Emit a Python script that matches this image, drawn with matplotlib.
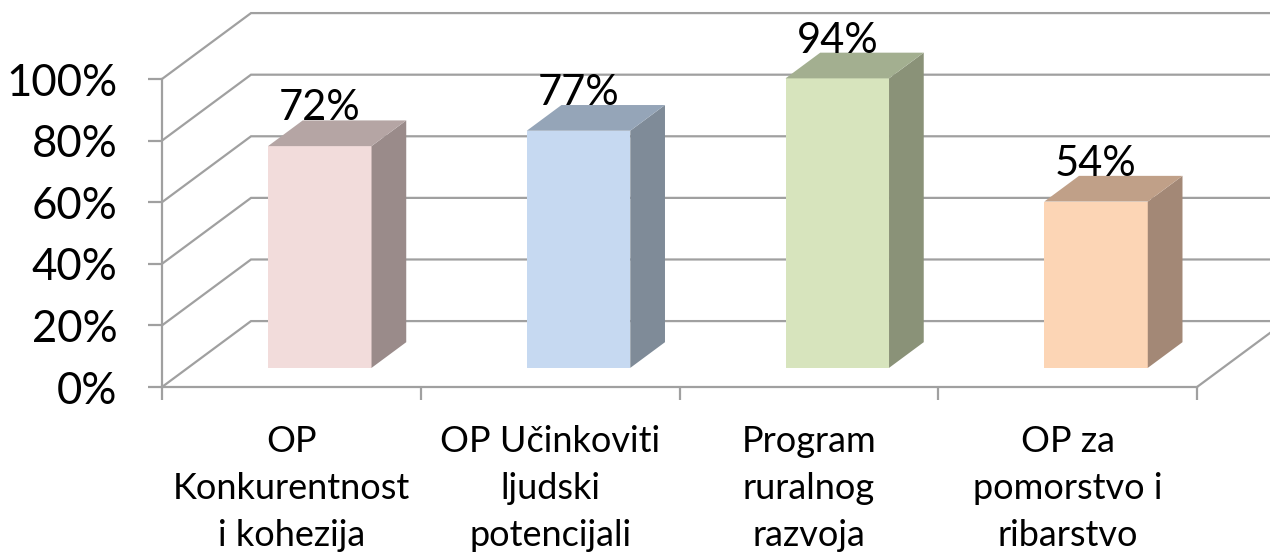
import matplotlib.pyplot as plt
from matplotlib.patches import Polygon
import numpy as np

plt.rcParams['font.family'] = ['Lato', 'DejaVu Sans']

# data
categories = ["OP\nKonkurentnost\ni kohezija", "OP Učinkoviti\nljudski\npotencijali",
              "Program\nruralnog\nrazvoja", "OP za\npomorstvo i\nribarstvo"]
values = [0.72, 0.77, 0.94, 0.54]
labels = ["72%", "77%", "94%", "54%"]
yticks = [0, 0.2, 0.4, 0.6, 0.8, 1.0]
ytick_labels = ["0%", "20%", "40%", "60%", "80%", "100%"]

front_colors = ["#F2DCDB", "#C6D9F1", "#D7E4BD", "#FCD5B5"]
side_colors = ["#9A8B8A", "#7F8B98", "#8A9278", "#A38876"]
top_colors = ["#B5A5A4", "#95A5B8", "#A3AF90", "#C0A088"]

# oblique projection of the depth axis (in data units)
DX = 0.344
DY = 0.214
t0 = 0.29     # depth where bars start
td = 0.39     # bar depth
bar_left = 0.31
bar_w = 0.40
grid_col = "#A0A0A0"

fig = plt.figure(figsize=(12.7, 5.57), dpi=100)
ax = fig.add_axes([162/1270, 1-387/557, (1197-162)/1270, (387-79)/557])
ax.set_xlim(0, 4)
ax.set_ylim(0, 1)
ax.patch.set_visible(False)

# walls / gridlines
for v in yticks:
    ax.plot([0, DX, 4+DX+0.2], [v, v+DY, v+DY], color=grid_col, lw=1.6,
            clip_on=False, zorder=1, solid_joinstyle='miter')
# floor right edge
ax.plot([4, 4+DX], [0, DY], color=grid_col, lw=1.6, clip_on=False, zorder=1)

# bars
def proj(x, y, t):
    return (x + t*DX, y + t*DY)

for i, v in enumerate(values):
    x0 = i + bar_left
    x1 = x0 + bar_w
    front = [proj(x0, 0, t0), proj(x1, 0, t0), proj(x1, v, t0), proj(x0, v, t0)]
    side = [proj(x1, 0, t0), proj(x1, 0, t0+td), proj(x1, v, t0+td), proj(x1, v, t0)]
    top = [proj(x0, v, t0), proj(x1, v, t0), proj(x1, v, t0+td), proj(x0, v, t0+td)]
    ax.add_patch(Polygon(front, closed=True, fc=front_colors[i], ec='none', clip_on=False, zorder=3))
    ax.add_patch(Polygon(side, closed=True, fc=side_colors[i], ec='none', clip_on=False, zorder=3))
    ax.add_patch(Polygon(top, closed=True, fc=top_colors[i], ec='none', clip_on=False, zorder=3))
    lx, _ = proj(i + bar_left + bar_w/2, v, t0)
    _, ly = proj(x0, v, t0+td)
    ax.text(lx, ly, labels[i], ha='center', va='baseline', fontsize=30,
            color='black', zorder=5, clip_on=False)

# axes
for s in ['top', 'right']:
    ax.spines[s].set_visible(False)
for s in ['left', 'bottom']:
    ax.spines[s].set_color(grid_col)
    ax.spines[s].set_linewidth(1.6)
    ax.spines[s].set_zorder(2)

ax.set_yticks(yticks)
ax.set_yticklabels(ytick_labels, fontsize=31.5)
ax.tick_params(axis='y', length=10, width=1.6, color=grid_col, pad=22)

ax.set_xticks([0, 1, 2, 3, 4])
ax.set_xticklabels([])
ax.set_xticks([0.5, 1.5, 2.5, 3.5], minor=True)
ax.set_xticklabels(categories, minor=True, fontsize=26, linespacing=1.52)
ax.tick_params(axis='x', which='major', length=9, width=1.6, color=grid_col)
ax.tick_params(axis='x', which='minor', length=0, pad=27)

fig.savefig("out.png", dpi=100)
